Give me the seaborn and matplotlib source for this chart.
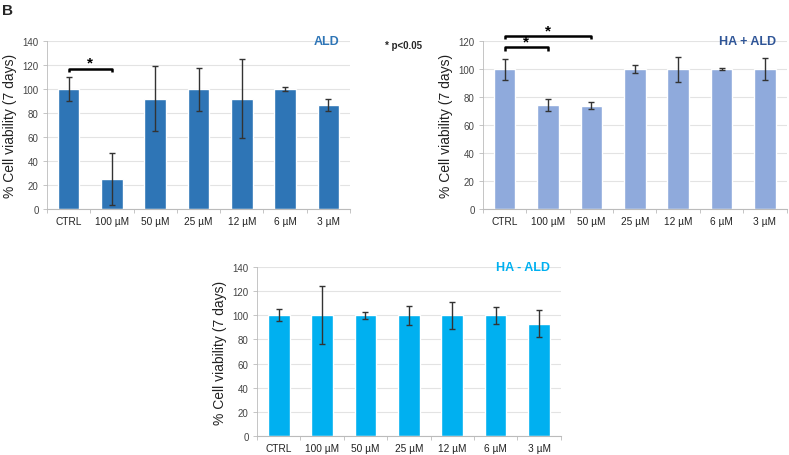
import matplotlib
matplotlib.use("Agg")
import matplotlib.pyplot as plt
import seaborn as sns
import numpy as np
import pandas as pd

categories = ["CTRL", "100 µM", "50 µM", "25 µM", "12 µM", "6 µM", "3 µM"]

ald_mean = [100, 25, 92, 100, 92, 100, 87]
ald_err = [10, 22, 27, 18, 33, 1.5, 5]

ha_ald_mean = [100, 74.5, 74, 100, 100, 100, 100]
ha_ald_err = [7.5, 4.5, 2.5, 3, 9, 0.6, 8]

ha_minus_mean = [100, 100, 100, 100, 100, 100, 93]
ha_minus_err = [5, 24, 3, 8, 11, 7, 11]

sns.set_theme(style="white")
plt.rcParams["font.family"] = ["Liberation Sans", "DejaVu Sans"]

fig = plt.figure(figsize=(7.89, 4.56), dpi=100)

panels = [
    dict(rect=[0.0596, 0.5395, 0.384, 0.368], mean=ald_mean, err=ald_err,
         color="#2E75B6", title="ALD", tcolor="#2E75B6", ymax=140),
    dict(rect=[0.612, 0.5395, 0.385, 0.368], mean=ha_ald_mean, err=ha_ald_err,
         color="#8FAADC", title="HA + ALD", tcolor="#2F5597", ymax=120),
    dict(rect=[0.3257, 0.0417, 0.385, 0.3706], mean=ha_minus_mean, err=ha_minus_err,
         color="#00B0F0", title="HA - ALD", tcolor="#00B0F0", ymax=140),
]

axes = []
for p in panels:
    ax = fig.add_axes(p["rect"])
    df = pd.DataFrame({"cat": categories, "val": p["mean"]})
    sns.barplot(data=df, x="cat", y="val", color=p["color"], saturation=1,
                width=0.5, errorbar=None, ax=ax, zorder=2)
    ax.errorbar(np.arange(len(categories)), p["mean"], yerr=p["err"], fmt="none",
                ecolor="#333333", elinewidth=1, capsize=2, capthick=1, zorder=3)
    ax.set_ylim(0, p["ymax"])
    ax.set_xlim(-0.5, len(categories) - 0.5)
    ax.set_yticks(np.arange(0, p["ymax"] + 1, 20))
    ax.yaxis.grid(True, color="#E3E3E3", linewidth=0.8, zorder=0)
    ax.set_axisbelow(True)
    ax.set_xlabel("")
    ax.set_ylabel("% Cell viability (7 days)", fontsize=10, color="#222222", labelpad=4)
    ax.tick_params(axis="y", labelsize=7, colors="#444444", length=3, width=0.6,
                   left=True, color="#BBBBBB", pad=3)
    ax.tick_params(axis="x", labelsize=7.3, colors="#222222", length=0, pad=5)
    ax.set_xticks(np.arange(-0.5, len(categories), 1), minor=True)
    ax.tick_params(axis="x", which="minor", length=3, color="#BBBBBB", width=0.6, bottom=True)
    for s in ["top", "right"]:
        ax.spines[s].set_visible(False)
    ax.spines["left"].set_color("#BBBBBB")
    ax.spines["left"].set_linewidth(0.6)
    ax.spines["bottom"].set_color("#BBBBBB")
    ax.spines["bottom"].set_linewidth(0.8)
    ax.text(0.965, 1.0, p["title"], transform=ax.transAxes, ha="right", va="center",
            fontsize=9, fontweight="bold", color=p["tcolor"])
    axes.append(ax)

def bracket(ax, x1, x2, y, drop, star_y):
    ax.plot([x1, x1, x2, x2], [y - drop, y, y, y - drop], color="black", lw=1.8,
            clip_on=False, solid_capstyle="butt", zorder=4)
    ax.text((x1 + x2) / 2, star_y, "*", ha="center", va="bottom", fontsize=11,
            fontweight="bold", color="black", clip_on=False)

bracket(axes[0], 0, 1, 117, 3, 116)
bracket(axes[1], 0, 2, 124, 2.5, 123)
bracket(axes[1], 0, 1, 115.5, 2.5, 114.5)

fig.text(0.003, 0.975, "B", fontsize=11, fontweight="bold", ha="left", va="center")
fig.text(0.488, 0.899, "* p<0.05", fontsize=7, fontweight="bold", ha="left", va="center")

fig.savefig("out.png", dpi=100)
